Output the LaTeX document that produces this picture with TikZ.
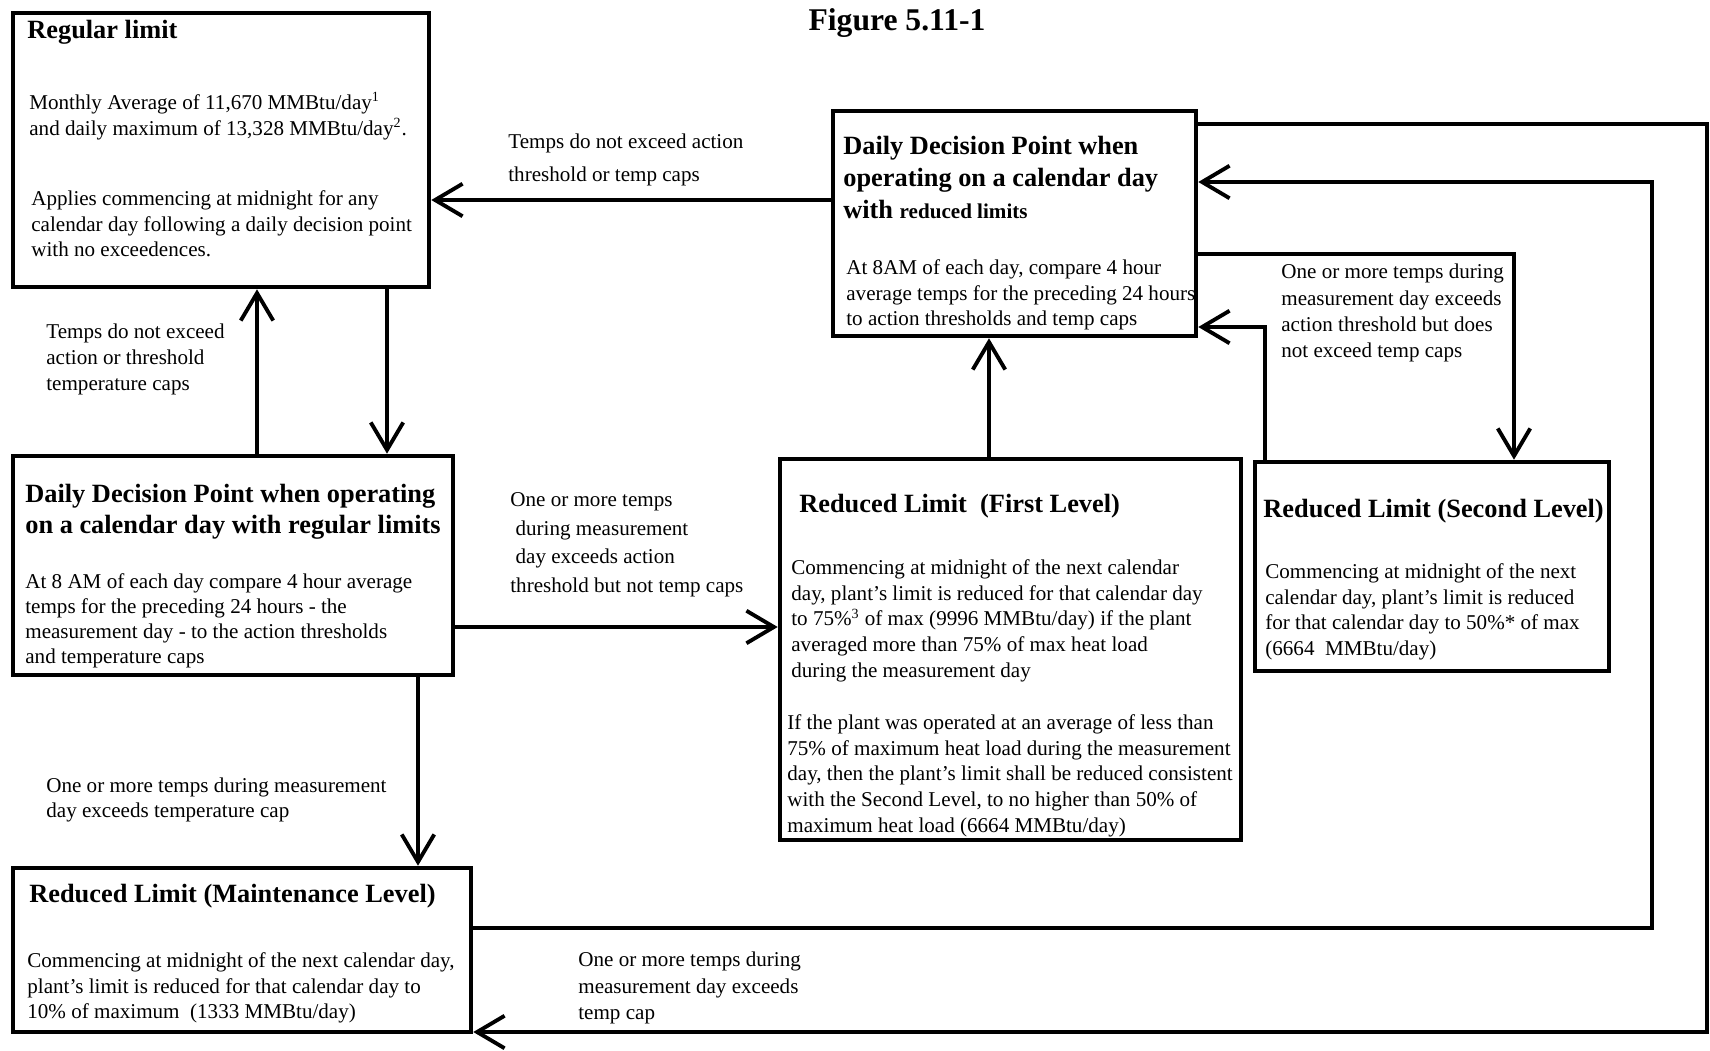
\documentclass[tikz,border=0pt]{standalone}
\usepackage{fontspec}
\setmainfont{Liberation Serif}
\usetikzlibrary{positioning}
\usetikzlibrary{fit}
\usetikzlibrary{calc}
\usetikzlibrary{arrows.meta}
\tikzset{box/.style={draw,line width=2.6pt,inner sep=0pt}}
\tikzset{hd/.style={anchor=north west,inner sep=0pt,align=left,font=\fontsize{15}{17.6}\selectfont\bfseries}}
\tikzset{tx/.style={anchor=north west,inner sep=0pt,align=left,font=\fontsize{12}{14.7}\selectfont}}
\tikzset{ed/.style={line width=2.2pt}}
\tikzset{>={Straight Barb[length=5.5mm,width=6.5mm]}}

\begin{document}
\begin{tikzpicture}[x=0.02cm,y=-0.02cm]
        \useasboundingbox (0,0) rectangle (1710,1051);

        \node[font=\fontsize{18}{20}\selectfont\bfseries,anchor=base] (fig) at (897,31) {Figure 5.11-1};

        \node[box,fit={(13,13) (429,287)}] (reg) {};
        \node[box,fit={(833,111) (1196,336)}] (ddr) {};
        \node[box,fit={(13,456) (453,675)}] (ddg) {};
        \node[box,fit={(780,459) (1241,840)}] (first) {};
        \node[box,fit={(1255,462) (1609,671)}] (second) {};
        \node[box,fit={(13,868) (471,1032)}] (maint) {};

        \node[hd] (regT) at (27,20) {Regular limit};
        \node[tx] (regA) at (29,92) {Monthly Average of 11,670 MMBtu/day\textsuperscript{1}\\and daily maximum of 13,328 MMBtu/day\textsuperscript{2}.};
        \node[tx] (regB) at (31,190) {Applies commencing at midnight for any\\calendar day following a daily decision point\\with no exceedences.};

        \node[hd,font=\fontsize{15}{18.2}\selectfont\bfseries] (ddrT) at (843,136) {Daily Decision Point when\\operating on a calendar day\\with {\fontsize{12}{18.2}\selectfont reduced limits}};
        \node[tx] (ddrA) at (846,259) {At 8AM of each day, compare 4 hour\\average temps for the preceding 24 hours\\to action thresholds and temp caps};

        \node[hd] (ddgT) at (25,484) {Daily Decision Point when operating\\on a calendar day with regular limits};
        \node[tx,font=\fontsize{12}{14.2}\selectfont] (ddgA) at (25,573) {At 8 AM of each day compare 4 hour average\\temps for the preceding 24 hours - the\\measurement day - to the action thresholds\\and temperature caps};

        \node[hd] (firstT) at (799,494) {Reduced Limit\ \ (First Level)};
        \node[tx] (firstA) at (791,559) {Commencing at midnight of the next calendar\\day, plant’s limit is reduced for that calendar day\\to 75\%\textsuperscript{3} of max (9996 MMBtu/day) if the plant\\averaged more than 75\% of max heat load\\during the measurement day};
        \node[tx] (firstB) at (787,714) {If the plant was operated at an average of less than\\75\% of maximum heat load during the measurement\\day, then the plant’s limit shall be reduced consistent\\with the Second Level, to no higher than 50\% of\\maximum heat load (6664 MMBtu/day)};

        \node[hd] (secondT) at (1263,499) {Reduced Limit (Second Level)};
        \node[tx] (secondA) at (1265,563) {Commencing at midnight of the next\\calendar day, plant’s limit is reduced\\for that calendar day to 50\%* of max\\(6664\ \ MMBtu/day)};

        \node[hd] (maintT) at (29,884) {Reduced Limit (Maintenance Level)};
        \node[tx] (maintA) at (27,952) {Commencing at midnight of the next calendar day,\\plant’s limit is reduced for that calendar day to\\10\% of maximum\ \ (1333 MMBtu/day)};

        \node[tx,font=\fontsize{12}{18.7}\selectfont] (l1) at (508,134) {Temps do not exceed action\\threshold or temp caps};
        \node[tx] (l2) at (46,324) {Temps do not exceed\\action or threshold\\temperature caps};
        \node[tx,font=\fontsize{12}{16.4}\selectfont] (l3) at (510,492) {One or more temps\\\hspace{3pt}during measurement\\\hspace{3pt}day exceeds action\\threshold but not temp caps};
        \node[tx,font=\fontsize{12}{14.2}\selectfont] (l4) at (46,778) {One or more temps during measurement\\day exceeds temperature cap};
        \node[tx,font=\fontsize{12}{14.9}\selectfont] (l5) at (1281,264) {One or more temps during\\measurement day exceeds\\action threshold but does\\not exceed temp caps};
        \node[tx,font=\fontsize{12}{15}\selectfont] (l6) at (578,952) {One or more temps during\\measurement day exceeds\\temp cap};

        \coordinate (a1) at (0,200);
        \coordinate (b1) at (257,0);
        \coordinate (b2) at (387,0);
        \coordinate (c1) at (0,627);
        \coordinate (d1) at (418,0);
        \coordinate (e1) at (989,0);
        \coordinate (f1) at (1265,327);
        \coordinate (g1) at (1514,254);
        \coordinate (h1) at (1652,928);
        \coordinate (h2) at (1652,182);
        \coordinate (i1) at (1707,124);
        \coordinate (i2) at (1707,1032);

        \draw[ed,->] (ddr.west |- a1) -- (reg.east |- a1);
        \draw[ed,->] (ddg.north -| b1) -- (reg.south -| b1);
        \draw[ed,->] (reg.south -| b2) -- (ddg.north -| b2);
        \draw[ed,->] (ddg.east |- c1) -- (first.west |- c1);
        \draw[ed,->] (ddg.south -| d1) -- (maint.north -| d1);
        \draw[ed,->] (first.north -| e1) -- (ddr.south -| e1);
        \draw[ed,->] (second.north -| f1) |- (ddr.east |- f1);
        \draw[ed,->] (ddr.east |- g1) -| (second.north -| g1);
        \draw[ed,->] (maint.east |- h1) -| (h2) -- (ddr.east |- h2);
        \draw[ed,->] (ddr.east |- i1) -| (i2) -- (maint.east |- i2);
    \end{tikzpicture}
\end{document}
